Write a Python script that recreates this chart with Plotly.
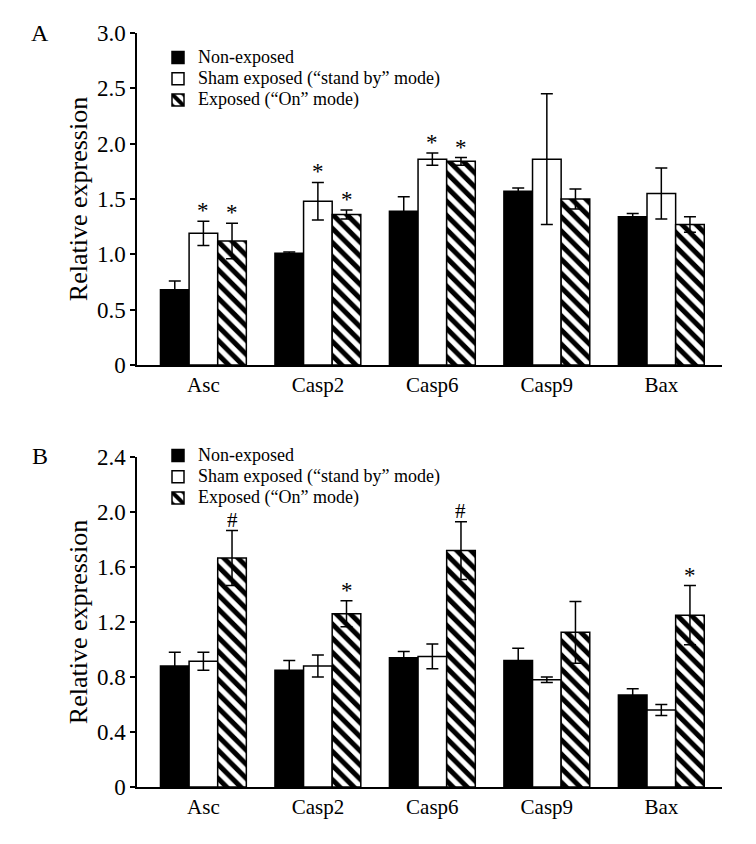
import plotly.graph_objects as go

genes = ["Asc", "Casp2", "Casp6", "Casp9", "Bax"]
groups = ["Non-exposed", "Sham exposed (“stand by” mode)", "Exposed (“On” mode)"]

# Panel A values
a_non = [0.68, 1.01, 1.39, 1.57, 1.34]
a_non_err = [0.08, 0.01, 0.13, 0.03, 0.03]
a_sham = [1.19, 1.48, 1.86, 1.86, 1.55]
a_sham_err = [0.11, 0.17, 0.055, 0.59, 0.23]
a_on = [1.12, 1.36, 1.84, 1.50, 1.27]
a_on_err = [0.16, 0.04, 0.035, 0.09, 0.07]
a_marks = [["", "*", "*"], ["", "*", "*"], ["", "*", "*"], ["", "", ""], ["", "", ""]]

# Panel B values
b_non = [0.88, 0.85, 0.94, 0.92, 0.67]
b_non_err = [0.10, 0.07, 0.045, 0.09, 0.045]
b_sham = [0.915, 0.88, 0.95, 0.78, 0.56]
b_sham_err = [0.065, 0.08, 0.09, 0.02, 0.04]
b_on = [1.665, 1.26, 1.72, 1.125, 1.25]
b_on_err = [0.20, 0.095, 0.21, 0.225, 0.215]
b_marks = [["", "", "#"], ["", "", "*"], ["", "", "#"], ["", "", ""], ["", "", "*"]]

a_ticks = [0, 0.5, 1.0, 1.5, 2.0, 2.5, 3.0]
a_ticktext = ["0", "0.5", "1.0", "1.5", "2.0", "2.5", "3.0"]
b_ticks = [0, 0.4, 0.8, 1.2, 1.6, 2.0, 2.4]
b_ticktext = ["0", "0.4", "0.8", "1.2", "1.6", "2.0", "2.4"]

FONT = "Liberation Serif, Times New Roman, serif"
# page has an 8px body margin; figure sized so the page fits the 756x844 window
OFF = 8
FW, FH = 756 - 2 * OFF, 844 - 2 * OFF


def fx(px):
    return (px - OFF) / FW


def fy(py):
    return 1 - (py - OFF) / FH


fig = go.Figure()


def add_panel(vals, errs, xa, ya, legend):
    styles = [
        dict(color="black", line=dict(color="black", width=1.5)),
        dict(color="white", line=dict(color="black", width=1.5)),
        dict(color="white", line=dict(color="black", width=1.5),
             pattern=dict(shape="\\", size=10, solidity=0.5, fgcolor="black",
                          bgcolor="white", fgopacity=1)),
    ]
    for k in range(3):
        fig.add_trace(go.Bar(
            x=genes, y=vals[k],
            name='<span style="font-size:18px">' + groups[k] + "</span>",
            xaxis=xa, yaxis=ya, legend=legend,
            marker=styles[k],
            error_y=dict(type="data", array=errs[k], visible=True, color="black",
                         thickness=1.5, width=6),
        ))


add_panel([a_non, a_sham, a_on], [a_non_err, a_sham_err, a_on_err], "x", "y", "legend")
add_panel([b_non, b_sham, b_on], [b_non_err, b_sham_err, b_on_err], "x2", "y2", "legend2")

offsets = [-0.25, 0.0, 0.25]
annotations = []


def add_marks(marks, vals, errs, xr, yr):
    for i, row in enumerate(marks):
        for k, m in enumerate(row):
            if not m:
                continue
            top = vals[k][i] + errs[k][i]
            ann = dict(
                x=i + offsets[k], y=top, xref=xr, yref=yr, text=m, showarrow=False,
                yanchor="bottom", xanchor="center",
            )
            if m == "*":
                ann["yshift"] = -4
                ann["font"] = dict(family=FONT, size=23, color="black")
            else:
                ann["height"] = 16
                ann["valign"] = "middle"
                ann["yshift"] = 1
                ann["font"] = dict(family=FONT, size=21, color="black")
            annotations.append(ann)


add_marks(a_marks, [a_non, a_sham, a_on], [a_non_err, a_sham_err, a_on_err], "x", "y")
add_marks(b_marks, [b_non, b_sham, b_on], [b_non_err, b_sham_err, b_on_err], "x2", "y2")

annotations.append(dict(x=fx(40), y=fy(33), xref="paper", yref="paper", text="A",
                        xanchor="center", yanchor="middle", showarrow=False,
                        font=dict(family=FONT, size=24, color="black")))
annotations.append(dict(x=fx(40), y=fy(456), xref="paper", yref="paper", text="B",
                        xanchor="center", yanchor="middle", showarrow=False,
                        font=dict(family=FONT, size=24, color="black")))

xdom = [fx(137), fx(722)]
xr = [-0.58, 4.53]

axis_common_x = dict(
    type="category", range=xr, domain=xdom, showline=True, linecolor="black", linewidth=1.5,
    ticks="", showgrid=False, zeroline=False, automargin=False,
    tickfont=dict(family=FONT, size=21, color="black"),
)
axis_common_y = dict(
    showline=True, linecolor="black", linewidth=1.5, ticks="outside", ticklen=5,
    tickwidth=1.5, tickcolor="black", showgrid=False, zeroline=False, automargin=False,
    tickfont=dict(family=FONT, size=23, color="black"),
    title=dict(text="Relative expression", font=dict(family=FONT, size=26, color="black"),
               standoff=2),
)

legend_common = dict(
    bgcolor="rgba(0,0,0,0)", borderwidth=0, xanchor="left", yanchor="top",
    font=dict(family=FONT, size=14, color="black"), tracegroupgap=0, itemclick=False,
)

fig.update_layout(
    width=FW, height=FH, margin=dict(l=0, r=0, t=0, b=0, autoexpand=False),
    paper_bgcolor="white", plot_bgcolor="white",
    barmode="group", bargap=0.25, bargroupgap=0,
    font=dict(family=FONT, color="black"),
    xaxis=dict(**axis_common_x, anchor="y"),
    yaxis=dict(**axis_common_y, anchor="x", domain=[fy(365), fy(33)], range=[0, 3.0],
               tickvals=a_ticks, ticktext=a_ticktext),
    xaxis2=dict(**axis_common_x, anchor="y2"),
    yaxis2=dict(**axis_common_y, anchor="x2", domain=[fy(787), fy(457)], range=[0, 2.4],
                tickvals=b_ticks, ticktext=b_ticktext),
    legend=dict(**legend_common, x=fx(158), y=fy(42)),
    legend2=dict(**legend_common, x=fx(158), y=fy(440)),
    annotations=annotations,
)

fig.write_html("out.html")
